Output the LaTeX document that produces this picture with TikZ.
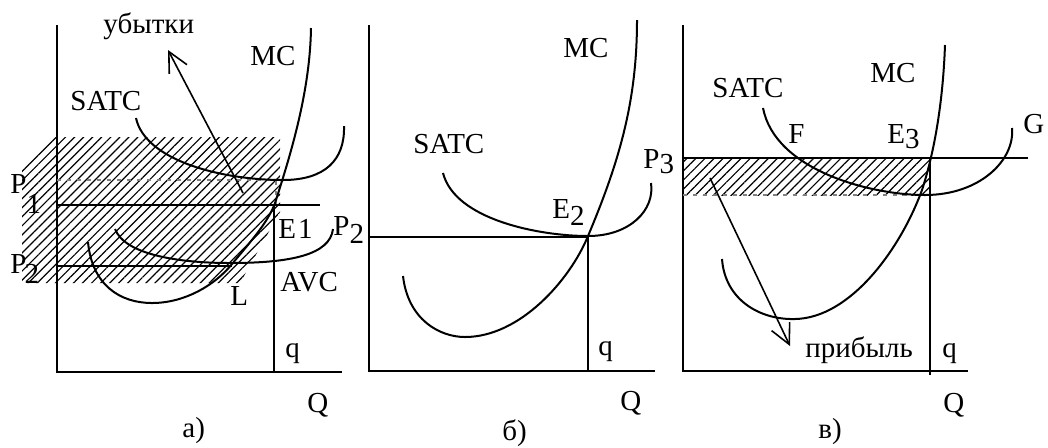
\documentclass[tikz,border=0pt]{standalone}
\usepackage{fontspec}
\setmainfont{Liberation Serif}
\usetikzlibrary{arrows.meta,patterns.meta}
\begin{document}
\begin{tikzpicture}[x=0.5pt,y=-0.5pt,
 ax/.style={line width=1.2pt},
 ln/.style={line width=1pt},
 crv/.style={line width=1pt},
 arr/.style={line width=0.8pt,-{Straight Barb[length=10pt,width=10pt,line width=0.8pt]}},
 lbl/.style={inner sep=0pt,anchor=base west,font=\fontsize{14.5}{16}\selectfont},
 hatch/.style={pattern={Lines[angle=45,distance=3.2pt,line width=0.6pt]}},
 gdash/.style={gray,line width=0.6pt,dash pattern=on 2pt off 3pt}]
\useasboundingbox (0,0) rectangle (1048,447);
% ---------------- panel a ----------------
\fill[hatch] (22,283) -- (22,165) -- (50,137) -- (280,137) -- (280,212) -- (240,283) -- cycle;
\coordinate (a0) at (57,372);
\coordinate (ay) at (57,25);
\coordinate (ax) at (342,372);
\draw[ax] (ay) -- (a0) -- (ax);
\coordinate (ap1l) at (57,205); \coordinate (ap1r) at (320,205);
\coordinate (ap2l) at (57,266); \coordinate (ap2r) at (232,266);
\coordinate (aqt) at (274,205); \coordinate (aqb) at (274,372);
\coordinate (adl) at (57,180); \coordinate (adr) at (276,180); \coordinate (adb) at (276,205);
\draw[gdash] (adl) -- (adr) -- (adb);
\draw[ln] (ap1l) -- (ap1r);
\draw[ln] (ap2l) -- (ap2r);
\draw[ln] (aqt) -- (aqb);
% MC a
\draw[crv] (88,242) .. controls (92,285) and (120,303) .. (152,303)
  .. controls (185,303) and (215,285) .. (232,264)
  .. controls (252,240) and (270,220) .. (276,200)
  .. controls (292,150) and (310,90) .. (311,28);
% SATC a
\draw[crv] (136,118) .. controls (145,160) and (220,180) .. (283,180)
  .. controls (325,180) and (345,160) .. (344,126);
% AVC a
\draw[crv] (115,229) .. controls (125,255) and (180,263) .. (230,263)
  .. controls (290,263) and (330,255) .. (333,229);
\coordinate (ua) at (243,193); \coordinate (ub) at (168,50);
\draw[arr] (ua) -- (ub);
\node[lbl] (tub) at (103,33) {убытки};
\node[lbl] (tmca) at (250,65) {MC};
\node[lbl] (tsatca) at (70,110) {SATC};
\node[lbl] (tp1) at (10,193) {P\raisebox{-10pt}{1}};
\node[lbl] (tp2a) at (10,273) {P\kern-1pt\raisebox{-5pt}{2}};
\node[lbl] (te1) at (278,238) {E\kern1pt 1};
\node[lbl] (tp2b) at (333,235) {P\raisebox{-4pt}{2}};
\node[lbl] (tavc) at (280,291) {AVC};
\node[lbl] (tl) at (230,305) {L};
\node[lbl] (tqa) at (285,357) {q};
\node[lbl] (tQa) at (307,412) {Q};
\node[lbl] (tla) at (182,437) {a)};
% ---------------- panel b ----------------
\coordinate (b0) at (369,371);
\coordinate (by) at (369,25);
\coordinate (bx) at (655,371);
\draw[ax] (by) -- (b0) -- (bx);
\coordinate (bpl) at (369,237); \coordinate (bpr) at (588,237);
\coordinate (bqt) at (588,237); \coordinate (bqb) at (588,371);
\draw[ln] (bpl) -- (bpr);
\draw[ln] (bqt) -- (bqb);
% MC b
\draw[crv] (403,276) .. controls (408,320) and (440,337) .. (465,337)
  .. controls (520,337) and (570,280) .. (588,236)
  .. controls (620,160) and (637,100) .. (637,20);
% SATC b
\draw[crv] (443,173) .. controls (455,220) and (540,236) .. (588,236)
  .. controls (630,236) and (655,210) .. (651,183);
\node[lbl] (tmcb) at (563,57) {MC};
\node[lbl] (tsatcb) at (413,153) {SATC};
\node[lbl] (te2) at (552,218) {E\raisebox{-3.5pt}{2}};
\node[lbl] (tp3) at (643,168) {P\raisebox{-2.5pt}{3}};
\node[lbl] (tqb) at (598,355) {q};
\node[lbl] (tQb) at (620,410) {Q};
\node[lbl] (tlb) at (502,440) {б)};
% ---------------- panel c ----------------
\fill[hatch] (683,158) rectangle (930,195);
\coordinate (c0) at (683,371);
\coordinate (cy) at (683,25);
\coordinate (cx) at (968,371);
\draw[ax] (cy) -- (c0) -- (cx);
\coordinate (cdl) at (683,195); \coordinate (cdr) at (930,195);
\draw[gdash] (cdl) -- (cdr);
\coordinate (cpl) at (683,158); \coordinate (cpr) at (1028,158);
\coordinate (cqt) at (930,158); \coordinate (cqb) at (930,375);
\draw[ln] (cpl) -- (cpr);
\draw[ln] (cqt) -- (cqb);
% MC c
\draw[crv] (722,259) .. controls (725,300) and (760,320) .. (795,319)
  .. controls (850,318) and (900,250) .. (922,190)
  .. controls (935,150) and (943,100) .. (945,45);
% SATC c
\draw[crv] (763,108) .. controls (775,170) and (870,195) .. (925,195)
  .. controls (980,195) and (1015,160) .. (1012,128);
\coordinate (pa) at (710,178); \coordinate (pb) at (790,346);
\draw[arr] (pa) -- (pb);
\node[lbl] (tsatcc) at (712,97) {SATC};
\node[lbl] (tmcc) at (870,82) {MC};
\node[lbl] (tf) at (788,143) {F};
\node[lbl] (te3) at (887,143) {E\raisebox{-2.5pt}{3}};
\node[lbl] (tg) at (1023,133) {G};
\node[lbl] (tpr) at (805,357) {прибыль};
\node[lbl] (tqc) at (942,357) {q};
\node[lbl] (tQc) at (943,412) {Q};
\node[lbl] (tlc) at (818,438) {в)};
\end{tikzpicture}
\end{document}
